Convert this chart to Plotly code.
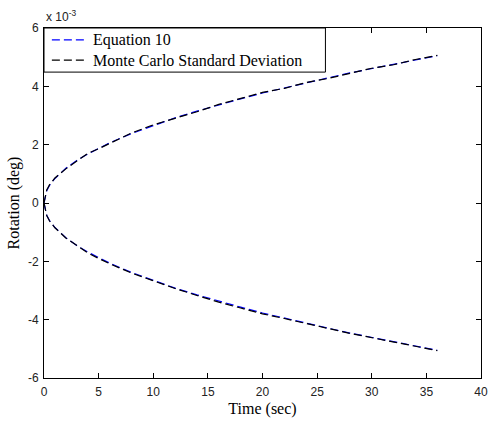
import plotly.graph_objects as go

# time points (sec)
time = [0, 0.25, 0.5, 1, 2, 3, 4, 5, 6, 8, 10, 12, 14, 16, 18, 20, 22, 24, 26, 28, 30, 32, 34, 36]
# rotation values in units of 1e-3 deg
eq10_upper = [0, 0.42, 0.60, 0.84, 1.19, 1.46, 1.68, 1.88, 2.06, 2.38, 2.66, 2.92, 3.15, 3.37, 3.57, 3.77, 3.95, 4.12, 4.29, 4.46, 4.61, 4.76, 4.91, 5.05]
eq10_lower = [-v for v in eq10_upper]
mc_upper = [0, 0.45, 0.62, 0.86, 1.17, 1.44, 1.70, 1.86, 2.04, 2.40, 2.68, 2.90, 3.13, 3.38, 3.58, 3.79, 3.93, 4.13, 4.27, 4.44, 4.62, 4.74, 4.92, 5.06]
mc_lower = [0, -0.43, -0.61, -0.85, -1.20, -1.47, -1.71, -1.90, -2.08, -2.40, -2.67, -2.93, -3.17, -3.40, -3.60, -3.80, -3.96, -4.14, -4.30, -4.47, -4.62, -4.78, -4.92, -5.06]

series_names = ["Equation 10", "Monte Carlo Standard Deviation"]
series_colors = ["#0000ff", "#000000"]

x_ticks = [0, 5, 10, 15, 20, 25, 30, 35, 40]
y_ticks = [-6, -4, -2, 0, 2, 4, 6]

SERIF = "Liberation Serif"
SANS = "Liberation Sans"
DASH = "8px,4px"

fig = go.Figure()
for ys, col in [(eq10_upper, series_colors[0]), (mc_upper, series_colors[1]),
                (eq10_lower, series_colors[0]), (mc_lower, series_colors[1])]:
    fig.add_trace(go.Scatter(x=time, y=ys, mode="lines", showlegend=False,
                             line=dict(color=col, width=1.2, dash=DASH)))

axis_common = dict(showgrid=False, zeroline=False, showline=True, linecolor="black", linewidth=1,
                   mirror="ticks", ticks="inside", ticklen=5, tickcolor="black",
                   tickfont=dict(family=SANS, size=12, color="#222"))

fig.update_xaxes(range=[0, 40], tickvals=x_ticks, ticktext=[str(v) for v in x_ticks],
                 ticklabelstandoff=3,
                 title=dict(text="Time (sec)", font=dict(family=SERIF, size=16, color="black"), standoff=4),
                 **axis_common)
fig.update_yaxes(range=[-6, 6], tickvals=y_ticks, ticktext=[str(v) for v in y_ticks],
                 ticklabelstandoff=2,
                 title=dict(text="Rotation (deg)", font=dict(family=SERIF, size=16, color="black"), standoff=4),
                 **axis_common)

fig.add_annotation(x=0, y=1, xref="paper", yref="paper", xanchor="left", yanchor="bottom",
                   text="x 10<sup>-3</sup>", showarrow=False, xshift=0, yshift=2,
                   font=dict(family=SANS, size=12, color="#222"))

# legend box drawn in paper coordinates (MATLAB-style compact legend)
fig.add_shape(type="rect", xref="paper", yref="paper", x0=0, x1=0.644, y0=0.874, y1=1,
              line=dict(color="black", width=1), fillcolor="white", layer="above")
row_y = [0.966, 0.908]
for name, col, yy in zip(series_names, series_colors, row_y):
    fig.add_shape(type="line", xref="paper", yref="paper", x0=0.018, x1=0.092, y0=yy, y1=yy,
                  line=dict(color=col, width=1.2, dash=DASH), layer="above")
    fig.add_annotation(x=0.11, y=yy, xref="paper", yref="paper", xanchor="left", yanchor="middle",
                       text=name, showarrow=False, borderpad=0,
                       font=dict(family=SERIF, size=16, color="black"))

fig.update_layout(
    width=496, height=424,
    margin=dict(l=44, r=8, t=28, b=46),
    paper_bgcolor="white", plot_bgcolor="white",
    showlegend=False,
)

fig.write_html("out.html")
